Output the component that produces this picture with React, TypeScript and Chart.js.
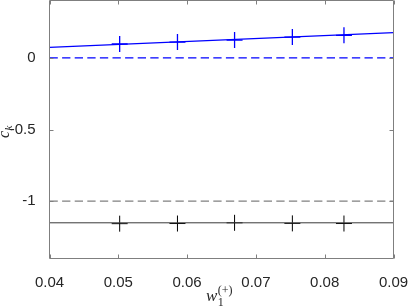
import React, { useEffect, useRef } from "react";
import { Chart, registerables } from "chart.js";

Chart.register(...registerables);

// ---- data ----
const xTicks = [0.04, 0.05, 0.06, 0.07, 0.08, 0.09];
const yTicks = [-1, -0.5, 0];
const wValues = [0.0502, 0.0586, 0.0669, 0.0753, 0.0828];
const ckUpper = [0.0965, 0.11, 0.124, 0.145, 0.157];
const ckLower = [-1.157, -1.156, -1.151, -1.155, -1.156];
const fitX = [0.04, 0.09];
const fitUpper = [0.0735, 0.1753];
const fitLower = [-1.151, -1.151];
const refUpper = [0, 0];
const refLower = [-1, -1];
const xRange = [0.04, 0.09];
const yRange = [-1.4, 0.4];

const AXIS_COLOR = "#7f7f7f";
const TEXT_COLOR = "#262626";
const TICK_FAMILY = "'Liberation Sans', Arial, sans-serif";

const pts = (xs: number[], ys: number[]) => xs.map((x, i) => ({ x, y: ys[i] }));

const boxPlugin = {
  id: "matlabBox",
  afterDraw(chart: any) {
    const { ctx, chartArea, scales } = chart;
    const { left, right, top, bottom } = chartArea;
    ctx.save();
    ctx.strokeStyle = AXIS_COLOR;
    ctx.lineWidth = 1;
    ctx.beginPath();
    ctx.rect(left, top, right - left, bottom - top);
    ctx.stroke();
    const tl = 4;
    ctx.beginPath();
    for (const t of scales.x.ticks) {
      const px = Math.round(scales.x.getPixelForValue(t.value)) + 0.5;
      ctx.moveTo(px, bottom);
      ctx.lineTo(px, bottom - tl);
      ctx.moveTo(px, top);
      ctx.lineTo(px, top + tl);
    }
    for (const t of scales.y.ticks) {
      const py = Math.round(scales.y.getPixelForValue(t.value)) + 0.5;
      ctx.moveTo(left, py);
      ctx.lineTo(left + tl, py);
      ctx.moveTo(right, py);
      ctx.lineTo(right - tl, py);
    }
    ctx.stroke();

    // axis titles
    ctx.fillStyle = TEXT_COLOR;
    ctx.textBaseline = "alphabetic";
    ctx.textAlign = "left";
    const serif = "'Liberation Serif', 'Times New Roman', serif";
    // x title: w_1^{(+)}
    ctx.font = `italic 17px ${serif}`;
    const wW = ctx.measureText("w").width;
    const wx = 206;
    ctx.fillText("w", wx, 301);
    ctx.font = `12px ${serif}`;
    ctx.fillText("(+)", wx + wW + 0.5, 293.5);
    ctx.fillText("1", wx + wW + 0.5, 306);

    // y title: c_k (rotated)
    ctx.translate(9, 138);
    ctx.rotate(-Math.PI / 2);
    ctx.font = `italic 16px ${serif}`;
    const cW = ctx.measureText("c").width;
    ctx.fillText("c", 0, 0);
    ctx.font = `italic 11px ${serif}`;
    ctx.fillText("k", cW + 0.5, 3);
    ctx.restore();
  },
};

export default function App() {
  const ref = useRef<HTMLCanvasElement | null>(null);

  useEffect(() => {
    if (!ref.current) return;
    const chart = new Chart(ref.current, {
      type: "scatter",
      data: {
        datasets: [
          {
            data: pts(fitX, refUpper),
            showLine: true,
            borderColor: "#0000ff",
            borderWidth: 1.2,
            borderDash: [8.3, 4.3],
            pointRadius: 0,
          },
          {
            data: pts(fitX, refLower),
            showLine: true,
            borderColor: "#808080",
            borderWidth: 1.2,
            borderDash: [8.3, 4.3],
            pointRadius: 0,
          },
          {
            data: pts(fitX, fitUpper),
            showLine: true,
            borderColor: "#0000ff",
            borderWidth: 1.2,
            pointRadius: 0,
          },
          {
            data: pts(fitX, fitLower),
            showLine: true,
            borderColor: "#3a3a3a",
            borderWidth: 1,
            pointRadius: 0,
          },
          {
            data: pts(wValues, ckUpper),
            showLine: false,
            pointStyle: "cross",
            pointRadius: 8,
            borderColor: "#0000ff",
            backgroundColor: "#0000ff",
            pointBorderWidth: 1.3,
          },
          {
            data: pts(wValues, ckLower),
            showLine: false,
            pointStyle: "cross",
            pointRadius: 8,
            borderColor: "#000000",
            backgroundColor: "#000000",
            pointBorderWidth: 1,
          },
        ],
      },
      options: {
        responsive: false,
        animation: false,
        events: [],
        layout: { autoPadding: false, padding: { top: 0.5, right: 15.5, bottom: 0, left: 0 } },
        plugins: { legend: { display: false }, tooltip: { enabled: false } },
        scales: {
          x: {
            type: "linear",
            min: xRange[0],
            max: xRange[1],
            afterBuildTicks: (s: any) => {
              s.ticks = xTicks.map((v) => ({ value: v }));
            },
            afterFit: (s: any) => {
              s.height = 48.5;
              s.paddingLeft = 0;
              s.paddingRight = 0;
              s.paddingTop = 0;
              s.paddingBottom = 0;
            },
            ticks: {
              callback: (v: any) => Number(v).toFixed(2),
              font: { family: TICK_FAMILY, size: 15 },
              color: TEXT_COLOR,
              padding: 7,
              maxRotation: 0,
              autoSkip: false,
            },
            grid: { display: false },
            border: { display: false },
          },
          y: {
            type: "linear",
            min: yRange[0],
            max: yRange[1],
            afterBuildTicks: (s: any) => {
              s.ticks = yTicks.map((v) => ({ value: v }));
            },
            afterFit: (s: any) => {
              s.width = 49.5;
              s.paddingTop = 0;
              s.paddingBottom = 0;
              s.paddingLeft = 0;
              s.paddingRight = 0;
            },
            ticks: {
              callback: (v: any) => String(v),
              font: { family: TICK_FAMILY, size: 15 },
              color: TEXT_COLOR,
              padding: 6,
              autoSkip: false,
            },
            grid: { display: false },
            border: { display: false },
          },
        },
      },
      plugins: [boxPlugin],
    } as any);
    return () => chart.destroy();
  }, []);

  return (
    <div style={{ position: "absolute", left: 0, top: 0, width: 409, height: 307, background: "#fff" }}>
      <canvas ref={ref} width={409} height={307} style={{ display: "block" }} />
    </div>
  );
}
